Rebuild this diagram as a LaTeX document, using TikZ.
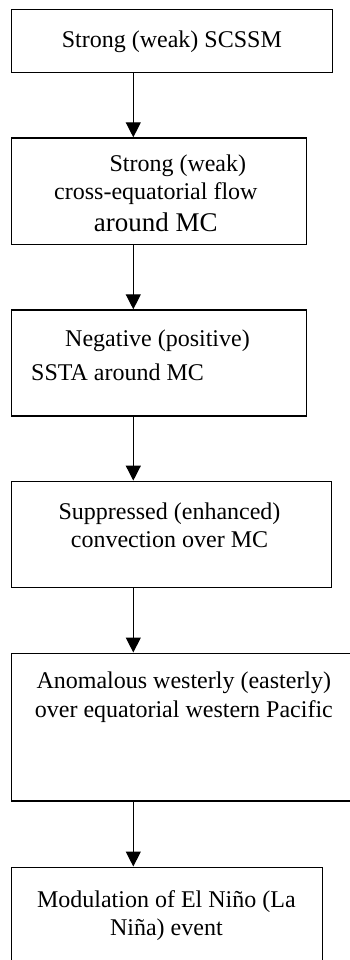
\documentclass[tikz,border=0pt]{standalone}
\usepackage{fontspec}
\setmainfont{Liberation Serif}
\usetikzlibrary{arrows.meta,positioning}

\begin{document}
\begin{tikzpicture}[
  x=1pt, y=1pt,
  >={Triangle[width=15pt,length=15pt]},
  flow/.style={->, line width=1.3pt, draw=black},
  stage/.style={
    rectangle,
    draw=black,
    line width=1.3pt,
    inner sep=0pt,
    anchor=north west
  },
  caption/.style={
    inner sep=0pt,
    anchor=north,
    align=center,
    font=\fontsize{24}{28}\selectfont
  }
]
  \clip (0,0) rectangle (350,-960);
  \useasboundingbox (0,0) rectangle (350,-960);

  \node[stage, minimum width=321pt, minimum height=62.7pt] (scssm) at (10.7,-9) {};
  \node[stage, minimum width=295pt, minimum height=106.7pt, below=64.3pt of scssm.south west, anchor=north west] (flowmc) {};
  \node[stage, minimum width=295.3pt, minimum height=106pt, below=64pt of flowmc.south west, anchor=north west] (ssta) {};
  \node[stage, minimum width=320.3pt, minimum height=106pt, below=64pt of ssta.south west, anchor=north west] (conv) {};
  \node[stage, minimum width=345pt, minimum height=147.7pt, below=64.6pt of conv.south west, anchor=north west] (wind) {};
  \node[stage, minimum width=311pt, minimum height=110pt, below=65pt of wind.south west, anchor=north west] (enso) {};

  \node[caption, below=21.5pt of scssm.north] (scssm-text) {Strong (weak) SCSSM};
  \node[caption, below=17.5pt of flowmc.north, xshift=-3pt] (flowmc-text)
    {\hspace*{44pt}Strong (weak)\\ cross-equatorial flow\\[4pt] {\fontsize{27}{32}\selectfont around MC}};
  \node[caption, align=left, below right=20pt and 20.3pt of ssta.north west] (ssta-text)
    {\hspace*{34pt}Negative (positive)\\[6pt] SSTA around MC};
  \node[caption, below=22pt of conv.north, xshift=-2pt] (conv-text)
    {Suppressed (enhanced)\\ convection over MC};
  \node[caption, below=19pt of wind.north] (wind-text)
    {Anomalous westerly (easterly)\\[1pt] over equatorial western Pacific};
  \node[caption, below=23.5pt of enso.north, xshift=-0.5pt] (enso-text)
    {Modulation of El Niño (La\\ Niña) event};

  \draw[flow] ([xshift=122.6pt]scssm.south west) -- ([xshift=122.6pt]flowmc.north west);
  \draw[flow] ([xshift=122.6pt]flowmc.south west) -- ([xshift=122.6pt]ssta.north west);
  \draw[flow] ([xshift=122.6pt]ssta.south west) -- ([xshift=122.6pt]conv.north west);
  \draw[flow] ([xshift=122.6pt]conv.south west) -- ([xshift=122.6pt]wind.north west);
  \draw[flow] ([xshift=122.6pt]wind.south west) -- ([xshift=122.6pt]enso.north west);
\end{tikzpicture}
\end{document}
